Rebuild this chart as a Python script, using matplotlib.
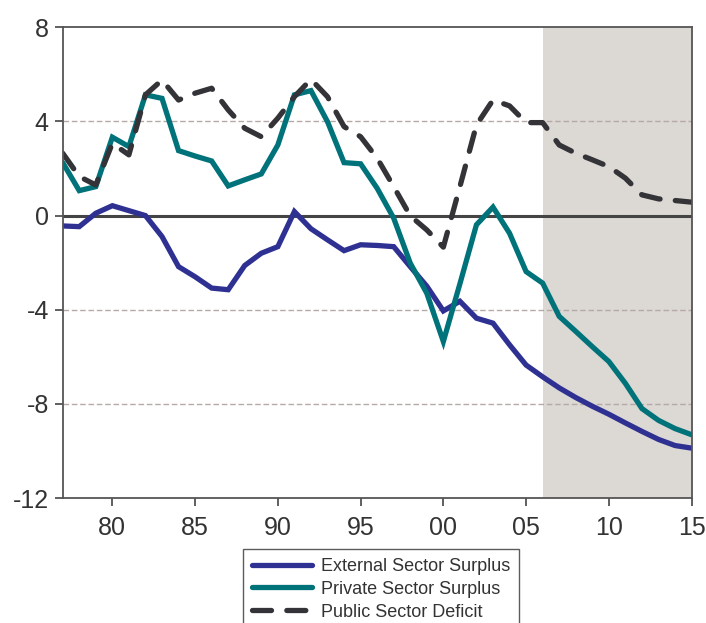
import numpy as np
import matplotlib
matplotlib.use('Agg')
import matplotlib.pyplot as plt

plt.rcParams['font.family'] = ['Liberation Sans', 'DejaVu Sans']

# data (percent of GDP)
years = list(range(1977, 2016))
external = [-0.44, -0.47, 0.10, 0.42, 0.21, 0.00, -0.89, -2.17, -2.60, -3.08,
            -3.15, -2.12, -1.60, -1.32, 0.17, -0.56, -1.03, -1.49, -1.24, -1.27,
            -1.32, -2.17, -3.00, -4.05, -3.64, -4.36, -4.57, -5.49, -6.35, -6.85,
            -7.32, -7.73, -8.10, -8.44, -8.81, -9.17, -9.51, -9.77, -9.88]
private = [2.25, 1.06, 1.23, 3.33, 2.93, 5.13, 4.98, 2.76, 2.53, 2.32,
           1.26, 1.52, 1.77, 3.00, 5.13, 5.31, 3.99, 2.25, 2.20, 1.16,
           -0.11, -2.02, -3.30, -5.35, -2.90, -0.39, 0.36, -0.75, -2.38, -2.87,
           -4.28, -4.92, -5.57, -6.20, -7.13, -8.20, -8.70, -9.05, -9.31]
public = [2.65, 1.66, 1.30, 3.07, 2.58, 5.13, 5.76, 4.91, 5.20, 5.41,
          4.49, 3.71, 3.35, 4.14, 5.05, 5.79, 5.05, 3.78, 3.35, 2.44,
          1.23, -0.01, -0.61, -1.34, 1.23, 3.85, 4.91, 4.66, 3.95, 3.95,
          3.00, 2.65, 2.37, 2.08, 1.59, 0.88, 0.71, 0.64, 0.57]
labels = ['External Sector Surplus', 'Private Sector Surplus', 'Public Sector Deficit']
yticks = [-12, -8, -4, 0, 4, 8]
xticks = [1980, 1985, 1990, 1995, 2000, 2005, 2010, 2015]
forecast_start = 2006

fig = plt.figure(figsize=(7.06, 6.23), dpi=100)
ax = fig.add_axes([0.0888, 0.2006, 0.8908, 0.7556])

# forecast shading, grid, zero line
ax.axvspan(forecast_start, years[-1], color='#DCD8D4', lw=0, zorder=0)
for v in [4, -4, -8]:
    ax.axhline(v, color='#B8A9A9', lw=1, ls=(0, (4, 2)), zorder=1)
ax.axhline(0, color='#444444', lw=2.2, zorder=2)

ax.plot(years, external, color='#2E3192', lw=3.8, label=labels[0],
        solid_capstyle='round', solid_joinstyle='miter', zorder=3)
ax.plot(years, private, color='#00727A', lw=3.8, label=labels[1],
        solid_capstyle='round', solid_joinstyle='miter', zorder=3)
ax.plot(years, public, color='#333338', lw=3.8, label=labels[2],
        ls=(0, (3.6, 2.9)), dash_capstyle='round', zorder=4)

ax.set_xlim(1977, 2015)
ax.set_ylim(-12, 8)
ax.set_yticks(yticks)
ax.set_yticklabels([str(v) for v in yticks])
ax.set_xticks(xticks)
ax.set_xticklabels([f'{v % 100:02d}' for v in xticks])
ax.tick_params(axis='both', direction='out', length=6, width=1.2,
               color='#444444', labelsize=18, labelcolor='#333333', pad=4)
ax.tick_params(axis='x', pad=7)
for s in ax.spines.values():
    s.set_color('#555555')
    s.set_linewidth(1.3)
    s.set_zorder(5)

leg = fig.legend(loc='upper left', bbox_to_anchor=(243 / 706, 1 - 549 / 623),
                 fontsize=13, frameon=True, fancybox=False, edgecolor='#333333',
                 handlelength=3.3, handletextpad=0.5, labelspacing=0.32,
                 borderpad=0.5, borderaxespad=0)
leg.get_frame().set_linewidth(1.0)
for t in leg.get_texts():
    t.set_color('#333333')

fig.savefig('out.png', dpi=100)
